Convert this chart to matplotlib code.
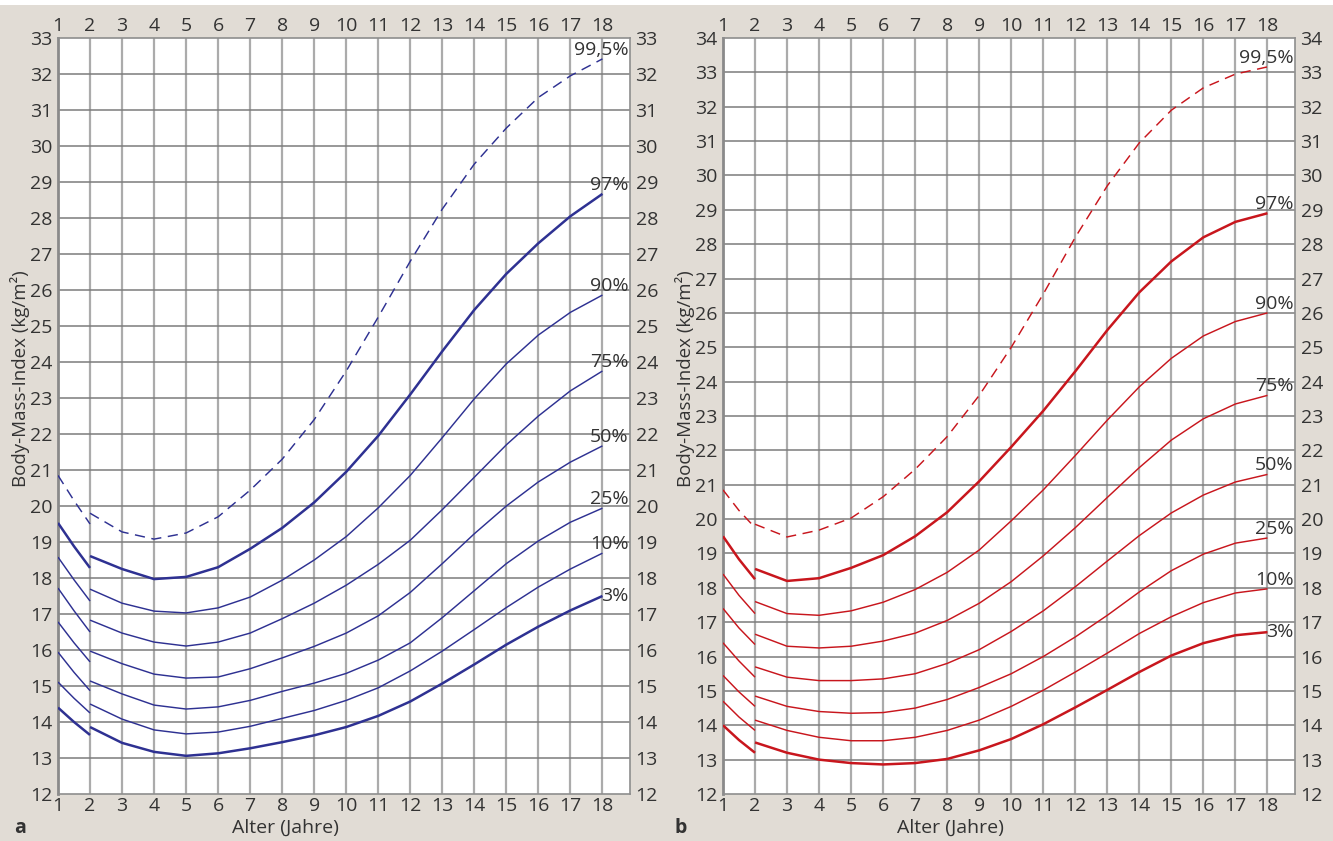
import numpy as np
import matplotlib.pyplot as plt
from matplotlib.patches import Rectangle

plt.rcParams['font.family'] = ['Open Sans', 'DejaVu Sans']

# percentiles and labels
pct_names = ['99,5%', '97%', '90%', '75%', '50%', '25%', '10%', '3%']

# ages, segment 1 (1-2 years) and segment 2 (2-18 years)
age1 = [1, 1.5, 2]
age2 = [2, 3, 4, 5, 6, 7, 8, 9, 10, 11, 12, 13, 14, 15, 16, 17, 18]

# boys (panel a)
boys1 = {
    '99,5%': [20.85, 20.15, 19.5],
    '97%': [19.53, 18.88, 18.28],
    '90%': [18.58, 17.95, 17.36],
    '75%': [17.72, 17.09, 16.5],
    '50%': [16.78, 16.2, 15.67],
    '25%': [15.94, 15.38, 14.87],
    '10%': [15.11, 14.66, 14.25],
    '3%': [14.4, 14.0, 13.64],
}
boys2 = {
    '99,5%': [19.8, 19.28, 19.08, 19.25, 19.7, 20.44, 21.3, 22.4, 23.75, 25.25, 26.8, 28.25, 29.5, 30.5, 31.35, 31.95, 32.42],
    '97%': [18.61, 18.25, 17.97, 18.03, 18.3, 18.81, 19.39, 20.1, 20.95, 21.95, 23.1, 24.3, 25.45, 26.45, 27.3, 28.05, 28.67],
    '90%': [17.69, 17.3, 17.08, 17.03, 17.17, 17.47, 17.94, 18.5, 19.15, 19.95, 20.85, 21.9, 22.98, 23.95, 24.75, 25.38, 25.86],
    '75%': [16.83, 16.47, 16.22, 16.11, 16.22, 16.47, 16.87, 17.3, 17.8, 18.38, 19.05, 19.9, 20.8, 21.7, 22.5, 23.2, 23.75],
    '50%': [15.97, 15.62, 15.33, 15.22, 15.25, 15.48, 15.78, 16.1, 16.47, 16.95, 17.6, 18.4, 19.23, 20.0, 20.67, 21.22, 21.67],
    '25%': [15.14, 14.78, 14.47, 14.36, 14.42, 14.6, 14.85, 15.08, 15.35, 15.72, 16.2, 16.9, 17.65, 18.4, 19.03, 19.55, 19.94],
    '10%': [14.5, 14.08, 13.78, 13.67, 13.72, 13.88, 14.1, 14.32, 14.6, 14.95, 15.42, 15.97, 16.57, 17.18, 17.75, 18.25, 18.69],
    '3%': [13.86, 13.42, 13.17, 13.06, 13.13, 13.27, 13.44, 13.63, 13.86, 14.17, 14.57, 15.07, 15.6, 16.15, 16.65, 17.1, 17.5],
}

# girls (panel b)
girls1 = {
    '99,5%': [20.85, 20.25, 19.75],
    '97%': [19.5, 18.83, 18.25],
    '90%': [18.4, 17.78, 17.25],
    '75%': [17.4, 16.83, 16.35],
    '50%': [16.4, 15.87, 15.4],
    '25%': [15.45, 14.97, 14.55],
    '10%': [14.7, 14.24, 13.85],
    '3%': [14.0, 13.57, 13.2],
}
girls2 = {
    '99,5%': [19.85, 19.48, 19.68, 20.03, 20.65, 21.45, 22.4, 23.6, 25.0, 26.55, 28.2, 29.7, 30.95, 31.9, 32.55, 32.95, 33.16],
    '97%': [18.55, 18.2, 18.28, 18.58, 18.95, 19.5, 20.2, 21.1, 22.1, 23.15, 24.3, 25.5, 26.6, 27.5, 28.2, 28.65, 28.9],
    '90%': [17.6, 17.25, 17.2, 17.33, 17.58, 17.95, 18.45, 19.1, 19.95, 20.85, 21.85, 22.88, 23.85, 24.68, 25.33, 25.75, 26.0],
    '75%': [16.65, 16.3, 16.25, 16.3, 16.45, 16.68, 17.05, 17.55, 18.18, 18.93, 19.75, 20.63, 21.5, 22.3, 22.92, 23.35, 23.6],
    '50%': [15.7, 15.4, 15.3, 15.3, 15.35, 15.5, 15.8, 16.2, 16.73, 17.33, 18.03, 18.78, 19.52, 20.18, 20.7, 21.08, 21.3],
    '25%': [14.85, 14.55, 14.4, 14.35, 14.37, 14.5, 14.75, 15.1, 15.5, 16.0, 16.57, 17.2, 17.88, 18.5, 18.98, 19.3, 19.45],
    '10%': [14.15, 13.85, 13.65, 13.55, 13.55, 13.65, 13.85, 14.15, 14.55, 15.02, 15.55, 16.1, 16.67, 17.16, 17.57, 17.85, 17.97],
    '3%': [13.5, 13.2, 13.0, 12.9, 12.86, 12.9, 13.02, 13.27, 13.6, 14.03, 14.52, 15.03, 15.55, 16.03, 16.39, 16.62, 16.71],
}

bg = '#e1dcd5'
W, H = 1333, 841
fig = plt.figure(figsize=(W / 100, H / 100), dpi=100, facecolor=bg)
fig.patches.append(Rectangle((0, 1 - 5 / H), 1, 5 / H, transform=fig.transFigure,
                             facecolor='white', edgecolor='none'))

ax1 = fig.add_axes([58 / W, 1 - 794 / H, 572 / W, 756 / H])
ax2 = fig.add_axes([723 / W, 1 - 794 / H, 572 / W, 756 / H])


def draw_panel(ax, seg1, seg2, color, ymax, letter, letter_x, xlabel_x):
    ax.set_xlim(1, 18.86)
    ax.set_ylim(12, ymax)
    ax.set_facecolor('white')

    for x in range(2, 19):
        ax.axvline(x, color='#ababab', lw=1.6, zorder=1)
    for y in range(13, ymax):
        ax.axhline(y, color='#7c7c7c', lw=1.1, zorder=1)

    for name in pct_names:
        thick = name in ('97%', '3%')
        lw = 1.8 if thick else 1.05
        ls = (0, (7, 4.5)) if name == '99,5%' else '-'
        ax.plot(age1, seg1[name], color=color, lw=lw, ls=ls, zorder=3,
                solid_capstyle='butt', solid_joinstyle='round')
        ax.plot(age2, seg2[name], color=color, lw=lw, ls=ls, zorder=3,
                solid_capstyle='butt', solid_joinstyle='round')
        yend = seg2[name][-1]
        va = 'center' if name == '3%' else 'bottom'
        ax.text(18.82, yend, name, ha='right', va=va, fontsize=14,
                color='#333333', zorder=4)

    ax.set_xticks(range(1, 19))
    ax.set_yticks(range(12, ymax + 1))
    ax.tick_params(axis='both', length=0, labelsize=14, colors='#333333',
                   top=True, labeltop=True, right=True, labelright=True)
    ax.tick_params(axis='x', pad=2)
    ax.tick_params(axis='y', pad=4)

    for side in ('top', 'right', 'bottom'):
        ax.spines[side].set_color('#8e8e8e')
        ax.spines[side].set_linewidth(1.2)
    ax.spines['left'].set_color('#8a8a8a')
    ax.spines['left'].set_linewidth(2)

    ax.text(-0.066, 0.55, 'Body-Mass-Index (kg/m²)', transform=ax.transAxes,
            rotation=90, ha='center', va='center', fontsize=13.5, color='#333333')
    fig.text(xlabel_x / W, 1 - 828 / H, 'Alter (Jahre)', ha='center', va='center',
             fontsize=14, color='#333333')
    fig.text(letter_x / W, 1 - 828 / H, letter, ha='center', va='center',
             fontsize=14, fontweight='bold', color='#333333')


draw_panel(ax1, boys1, boys2, '#2e3192', 33, 'a', 20, 285)
draw_panel(ax2, girls1, girls2, '#c8161d', 34, 'b', 681, 950)

fig.savefig('out.png', dpi=100, facecolor=bg)
